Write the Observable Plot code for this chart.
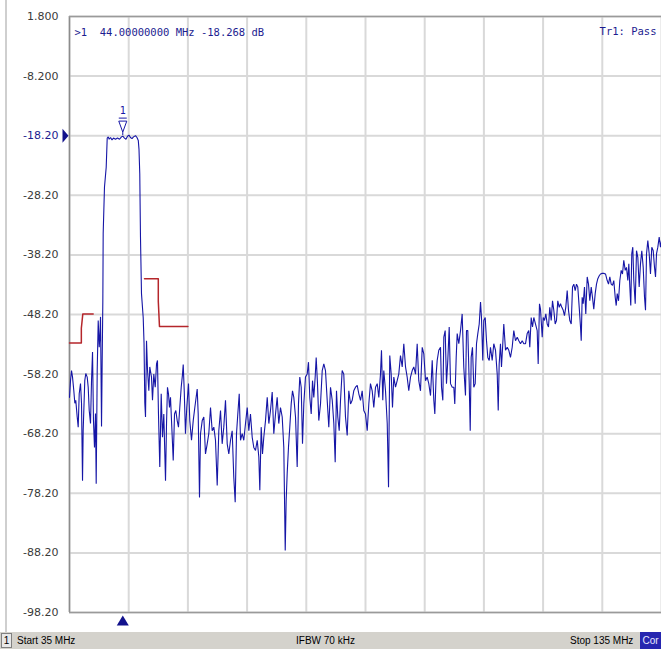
<!DOCTYPE html>
<html>
<head>
<meta charset="utf-8">
<script src="https://cdn.jsdelivr.net/npm/d3@7"></script>
<script src="https://cdn.jsdelivr.net/npm/@observablehq/plot@0.6"></script>
<style>
  html, body { margin: 0; padding: 0; background: #ffffff; }
  #wrap { position: relative; width: 661px; height: 649px; overflow: hidden; background: #ffffff; }
  #leftbar { position: absolute; left: 5px; top: 0; width: 2px; height: 632px; background: #cfcfcf; }
  #chart { position: absolute; left: 0; top: 0; }
  #chart svg text { white-space: pre; }
  #status { position: absolute; left: 0; top: 632px; width: 661px; height: 17px; background: #d4d2cc;
            font: 10px "Liberation Sans", Arial, sans-serif; color: #000; }
  #status span { position: absolute; top: 2px; line-height: 13px; white-space: pre; }
  #status .chan { left: 1px; top: 1px; width: 9px; height: 13px; border: 1px solid #808080; background: #e8e8e8; text-align: center; }
  #status .cor { left: 640px; top: 0; width: 21px; height: 17px; line-height: 17px; background: #2626b0; color: #e8e8ff; text-align: center; }
</style>
</head>
<body>
<div id="wrap">
  <div id="leftbar"></div>
  <div id="chart"></div>
  <div id="status"></div>
</div>
<script>
// ---- data ----
const startMHz = 35, stopMHz = 135;
const xGridMHz = [35, 45, 55, 65, 75, 85, 95, 105, 115, 125, 135];
const yTicks = [1.8, -8.2, -18.2, -28.2, -38.2, -48.2, -58.2, -68.2, -78.2, -88.2, -98.2];
const yTickLabels = ["1.800", "-8.200", "-18.20", "-28.20", "-38.20", "-48.20", "-58.20", "-68.20", "-78.20", "-88.20", "-98.20"];
const refLevel = -18.2;
const markerMHz = [44];
const markerDb = [-18.268];
const readoutText = [">1  44.00000000 MHz -18.268 dB"];
const passText = ["Tr1: Pass"];
const statusTexts = ["1", "Start 35 MHz", "IFBW 70 kHz", "Stop 135 MHz", "Cor"];

const limit1MHz = [35, 37.0, 37.0, 37.25, 39.0];
const limit1Db  = [-53.0, -53.0, -50.5, -48.1, -48.1];
const limit2MHz = [47.67, 50.0, 50.0, 50.2, 55.0];
const limit2Db  = [-42.2, -42.2, -46.0, -50.2, -50.2];

const freqMHz = [
35.00,35.17,35.34,35.51,35.73,35.90,36.06,36.30,36.47,36.64,
36.86,37.03,37.20,37.31,37.58,37.75,37.99,38.16,38.33,38.55,
38.72,38.89,39.05,39.22,39.39,39.51,39.68,39.85,40.02,40.12,
40.24,40.41,40.52,40.63,40.69,40.91,41.20,41.37,41.55,41.70,
41.93,42.18,42.43,42.77,43.11,43.45,43.78,44.00,44.29,44.54,
44.80,45.05,45.30,45.56,45.81,46.15,46.40,46.62,46.74,46.87,
46.99,47.16,47.45,47.59,47.72,47.84,48.01,48.18,48.40,48.56,
48.85,49.02,49.24,49.48,49.70,49.86,50.03,50.25,50.49,50.71,
50.93,51.22,51.39,51.55,51.72,51.89,52.06,52.28,52.52,52.74,
52.96,53.19,53.41,53.63,53.87,54.09,54.21,54.38,54.59,54.81,
55.10,55.32,55.61,55.90,56.17,56.57,56.74,56.96,57.13,57.42,
57.69,57.97,58.26,58.53,58.82,59.10,59.38,59.66,59.95,60.22,
60.51,60.79,61.06,61.35,61.64,61.91,62.20,62.48,62.75,62.99,
63.21,63.43,63.67,63.89,64.17,64.44,64.73,65.02,65.29,65.57,
65.86,66.13,66.42,66.71,66.98,67.15,67.38,67.60,67.82,68.11,
68.40,68.67,68.95,69.24,69.51,69.80,70.08,70.35,70.64,70.93,
71.20,71.44,71.60,71.77,71.99,72.21,72.45,72.67,72.89,73.18,
73.46,73.68,73.90,74.14,74.36,74.58,74.86,75.15,75.37,75.59,
75.83,76.05,76.27,76.50,76.67,76.89,77.11,77.40,77.69,77.96,
78.24,78.53,78.80,79.09,79.38,79.65,79.88,80.10,80.32,80.56,
80.78,81.06,81.33,81.62,81.91,82.18,82.47,82.75,83.02,83.31,
83.60,83.87,84.16,84.44,84.71,85.00,85.29,85.56,85.84,86.13,
86.40,86.69,86.98,87.25,87.53,87.70,87.92,88.09,88.38,88.67,
88.89,89.10,89.34,89.56,89.78,90.07,90.35,90.62,90.91,91.20,
91.47,91.76,92.04,92.31,92.60,92.89,93.16,93.45,93.73,94.00,
94.29,94.58,94.85,95.14,95.42,95.69,95.98,96.27,96.54,96.71,
96.94,97.11,97.38,97.67,97.84,98.06,98.23,98.46,98.68,98.90,
99.14,99.36,99.65,99.92,100.08,100.32,100.49,100.76,101.05,101.33,
101.60,101.89,102.06,102.28,102.52,102.69,102.85,103.07,103.29,103.53,
103.75,103.97,104.21,104.43,104.59,104.81,104.98,105.22,105.44,105.66,
105.90,106.11,106.40,106.67,106.96,107.25,107.42,107.58,107.80,107.97,
108.19,108.36,108.65,108.94,109.21,109.49,109.78,110.05,110.34,110.63,
110.90,111.18,111.47,111.74,112.03,112.31,112.58,112.75,112.99,113.21,
113.43,113.72,114.00,114.17,114.39,114.56,114.85,115.02,115.24,115.46,
115.69,115.91,116.13,116.37,116.59,116.81,117.04,117.26,117.48,117.72,
117.94,118.16,118.40,118.61,118.83,119.07,119.29,119.51,119.75,119.97,
120.19,120.42,120.64,120.86,121.10,121.32,121.44,121.60,121.77,121.99,
122.21,122.45,122.67,122.89,123.13,123.34,123.56,123.80,124.02,124.24,
124.48,124.70,124.98,125.25,125.54,125.83,126.05,126.27,126.50,126.72,
126.94,127.18,127.35,127.52,127.74,127.96,128.19,128.41,128.63,128.87,
129.09,129.31,129.48,129.65,129.81,129.98,130.15,130.32,130.56,130.78,
131.00,131.23,131.45,131.67,131.91,132.13,132.30,132.47,132.69,132.92,
133.14,133.36,133.60,133.82,133.99,134.16,134.38,134.61,134.83,135.00
];

const traceDb = [
-62.1,-59.3,-57.6,-58.7,-61.0,-63.1,-62.6,-65.4,-67.1,-61.5,
-59.8,-63.1,-76.1,-67.7,-59.3,-58.1,-58.7,-60.4,-64.3,-66.5,
-59.3,-54.5,-66.0,-70.5,-64.8,-76.6,-57.6,-49.2,-53.7,-52.0,
-48.6,-67.0,-56.0,-46.0,-34.6,-26.8,-23.5,-18.6,-18.4,-18.8,
-18.5,-18.9,-18.6,-18.8,-18.6,-18.8,-18.4,-18.27,-18.6,-18.8,
-18.3,-18.1,-18.5,-18.7,-18.4,-18.2,-18.5,-19.0,-20.5,-24.6,
-35.2,-44.7,-48.7,-53.0,-63.0,-65.4,-52.6,-57.6,-61.0,-57.0,
-58.7,-62.6,-58.2,-60.4,-56.5,-55.9,-64.9,-73.8,-61.5,-68.8,
-64.9,-76.1,-66.5,-60.4,-61.5,-63.8,-62.1,-67.1,-72.7,-64.9,
-64.3,-66.0,-67.1,-63.8,-60.4,-58.2,-56.6,-61.0,-68.2,-63.8,
-59.8,-66.0,-69.3,-66.0,-63.8,-60.7,-64.9,-78.9,-68.2,-66.0,
-65.4,-71.6,-69.9,-68.2,-63.8,-67.7,-67.1,-69.3,-76.9,-67.7,
-64.3,-69.9,-67.1,-62.6,-69.9,-71.6,-69.3,-67.7,-75.5,-79.7,
-68.2,-64.9,-61.5,-69.3,-68.2,-69.3,-66.5,-63.8,-67.7,-64.9,
-68.8,-70.5,-71.0,-69.3,-72.1,-77.7,-67.1,-71.6,-68.8,-66.0,
-62.1,-66.5,-64.3,-61.2,-68.2,-64.9,-62.1,-66.5,-63.8,-65.4,
-70.5,-87.8,-79.4,-74.9,-70.5,-67.1,-63.2,-61.0,-62.1,-65.4,
-73.8,-63.2,-58.7,-60.4,-69.9,-63.2,-58.7,-58.2,-56.2,-62.1,
-64.9,-59.3,-62.1,-58.7,-55.4,-59.8,-66.0,-63.2,-57.6,-56.5,
-57.6,-62.6,-67.1,-60.4,-62.6,-66.5,-73.0,-61.0,-65.4,-67.7,
-62.6,-57.6,-58.2,-65.4,-68.5,-61.0,-63.2,-62.6,-61.0,-60.4,
-60.1,-61.5,-62.6,-61.0,-64.3,-64.9,-67.7,-63.2,-59.8,-61.0,
-63.8,-60.4,-59.8,-62.1,-58.2,-54.2,-62.6,-57.6,-61.0,-66.5,
-77.2,-55.1,-58.2,-63.8,-58.7,-60.4,-59.3,-58.2,-55.1,-57.0,
-53.1,-57.0,-58.7,-61.0,-58.7,-57.6,-57.0,-58.2,-53.1,-59.3,
-61.0,-53.7,-54.8,-59.3,-58.7,-59.8,-61.8,-55.9,-62.6,-64.9,
-58.2,-55.9,-54.2,-53.7,-60.4,-62.6,-52.0,-50.9,-59.8,-55.9,
-50.3,-59.8,-60.4,-60.4,-63.2,-55.4,-51.4,-53.1,-50.9,-48.1,
-57.0,-61.8,-50.9,-50.9,-59.8,-67.7,-55.4,-53.7,-60.4,-59.8,
-53.1,-51.4,-49.8,-46.1,-48.7,-55.9,-49.2,-48.7,-52.6,-55.4,
-55.9,-53.7,-55.9,-53.1,-54.2,-58.2,-64.3,-56.5,-53.1,-57.0,
-53.1,-49.8,-54.2,-53.7,-54.2,-55.4,-53.7,-50.9,-52.6,-52.0,
-52.6,-53.1,-52.6,-53.1,-53.1,-51.4,-50.9,-53.7,-48.7,-50.3,
-48.7,-49.8,-50.9,-56.5,-46.4,-47.3,-52.0,-48.7,-49.2,-48.1,
-49.8,-50.3,-47.0,-49.2,-45.9,-47.5,-49.8,-49.2,-45.9,-47.0,
-46.4,-47.0,-47.5,-48.4,-47.0,-44.2,-47.5,-49.2,-49.8,-43.6,
-43.1,-44.2,-43.1,-43.6,-47.0,-50.3,-52.6,-45.3,-46.4,-43.6,
-48.1,-41.9,-43.1,-45.9,-43.6,-45.3,-47.3,-44.7,-43.1,-42.2,
-41.7,-41.4,-41.3,-41.3,-41.4,-42.5,-43.1,-41.9,-43.1,-43.3,
-42.5,-45.3,-46.7,-44.7,-45.9,-42.5,-40.8,-41.4,-39.1,-40.8,
-40.3,-42.5,-39.7,-43.6,-46.7,-38.0,-36.9,-42.5,-46.4,-37.5,
-38.6,-43.6,-39.7,-37.5,-40.3,-45.3,-47.5,-38.0,-35.8,-38.0,
-41.4,-36.9,-37.5,-40.3,-41.9,-38.0,-36.9,-35.2,-36.9,-35.8
];

// ---- drawing ----
const n = Math.min(freqMHz.length, traceDb.length);
const trace = d3.range(n).map(i => ({f: freqMHz[i], db: traceDb[i]}));
const lim1 = limit1MHz.map((f, i) => ({f, db: limit1Db[i]}));
const lim2 = limit2MHz.map((f, i) => ({f, db: limit2Db[i]}));

const traceBlue = "#1616a6";
const textBlue = "#1c1c90";
const gridGray = "#d9d9d9";
const frameGray = "#8c8c8c";

// custom symbols
const triRight = {draw(ctx) { ctx.moveTo(-3, -7); ctx.lineTo(3, 0); ctx.lineTo(-3, 7); ctx.closePath(); }};
const triUp = {draw(ctx) { ctx.moveTo(0, -5); ctx.lineTo(6, 5); ctx.lineTo(-6, 5); ctx.closePath(); }};
const pin = {draw(ctx) {
  ctx.moveTo(-4, -18); ctx.lineTo(4, -18);
  ctx.moveTo(-4, -15); ctx.lineTo(4, -15); ctx.lineTo(0, -4); ctx.closePath();
  ctx.moveTo(0, -4); ctx.lineTo(0, -1);
}};

const markers = markerMHz.map((f, i) => ({f, db: markerDb[i]}));

const chart = Plot.plot({
  width: 661,
  height: 632,
  marginLeft: 69,
  marginRight: 0,
  marginTop: 16,
  marginBottom: 20,
  style: {background: "transparent", overflow: "visible"},
  x: {domain: [startMHz, stopMHz], axis: null},
  y: {domain: [-98.2, 1.8], axis: null},
  marks: [
    Plot.gridX(xGridMHz, {stroke: gridGray, strokeOpacity: 1, strokeWidth: 2}),
    Plot.gridY(yTicks, {stroke: gridGray, strokeOpacity: 1, strokeWidth: 2}),
    Plot.ruleX([startMHz], {stroke: frameGray, strokeWidth: 1.5}),
    Plot.ruleY([yTicks[0]], {stroke: "#9a9a9a", strokeWidth: 1.5}),
    Plot.ruleY([yTicks[yTicks.length - 1]], {stroke: "#9a9a9a", strokeWidth: 1.5}),
    Plot.line(lim1, {x: "f", y: "db", stroke: "#b5262b", strokeWidth: 1.5}),
    Plot.line(lim2, {x: "f", y: "db", stroke: "#b5262b", strokeWidth: 1.5}),
    Plot.line(trace, {x: "f", y: "db", stroke: traceBlue, strokeWidth: 1.1, strokeLinejoin: "miter"}),
    // y tick labels
    Plot.text(yTicks.filter(d => d !== refLevel), {
      y: d => d, frameAnchor: "left", dx: -11, textAnchor: "end",
      text: d => yTickLabels[yTicks.indexOf(d)],
      fontFamily: "DejaVu Sans", fontSize: 11, fill: "#3a3a3a"
    }),
    Plot.text(yTicks.filter(d => d === refLevel), {
      y: d => d, frameAnchor: "left", dx: -11, textAnchor: "end",
      text: d => yTickLabels[yTicks.indexOf(d)],
      fontFamily: "DejaVu Sans", fontSize: 11, fill: textBlue
    }),
    // reference level pointer
    Plot.dot([refLevel], {y: d => d, frameAnchor: "left", dx: -4, symbol: triRight, fill: "#12128c", stroke: "none"}),
    // marker stimulus pointer at bottom
    Plot.dot(markerMHz, {x: d => d, frameAnchor: "bottom", dy: 8, symbol: triUp, fill: "#12128c", stroke: "none"}),
    // marker flag on trace
    Plot.dot(markers, {x: "f", y: "db", symbol: pin, fill: "white", stroke: traceBlue, strokeWidth: 1}),
    Plot.text(markers, {x: "f", y: "db", text: (d, i) => String(i + 1), dy: -25, fontFamily: "DejaVu Sans Mono", fontSize: 10, fill: traceBlue}),
    // readouts
    Plot.text(readoutText, {text: d => d, frameAnchor: "top-left", dx: 5, dy: 16, lineAnchor: "middle", textAnchor: "start",
      fontFamily: "DejaVu Sans Mono", fontSize: 10.5, fill: textBlue}),
    Plot.text(passText, {text: d => d, frameAnchor: "top-right", dx: -5, dy: 15, lineAnchor: "middle", textAnchor: "end",
      fontFamily: "DejaVu Sans Mono", fontSize: 10.5, fill: textBlue})
  ]
});
document.getElementById("chart").appendChild(chart);

// status bar
const status = document.getElementById("status");
const cls = ["chan", "", "", "", "cor"];
const lefts = [null, 17, 296, 570, null];
statusTexts.forEach((t, i) => {
  const s = document.createElement("span");
  if (cls[i]) s.className = cls[i];
  if (lefts[i] != null) s.style.left = lefts[i] + "px";
  s.textContent = t;
  status.appendChild(s);
});
</script>
</body>
</html>
